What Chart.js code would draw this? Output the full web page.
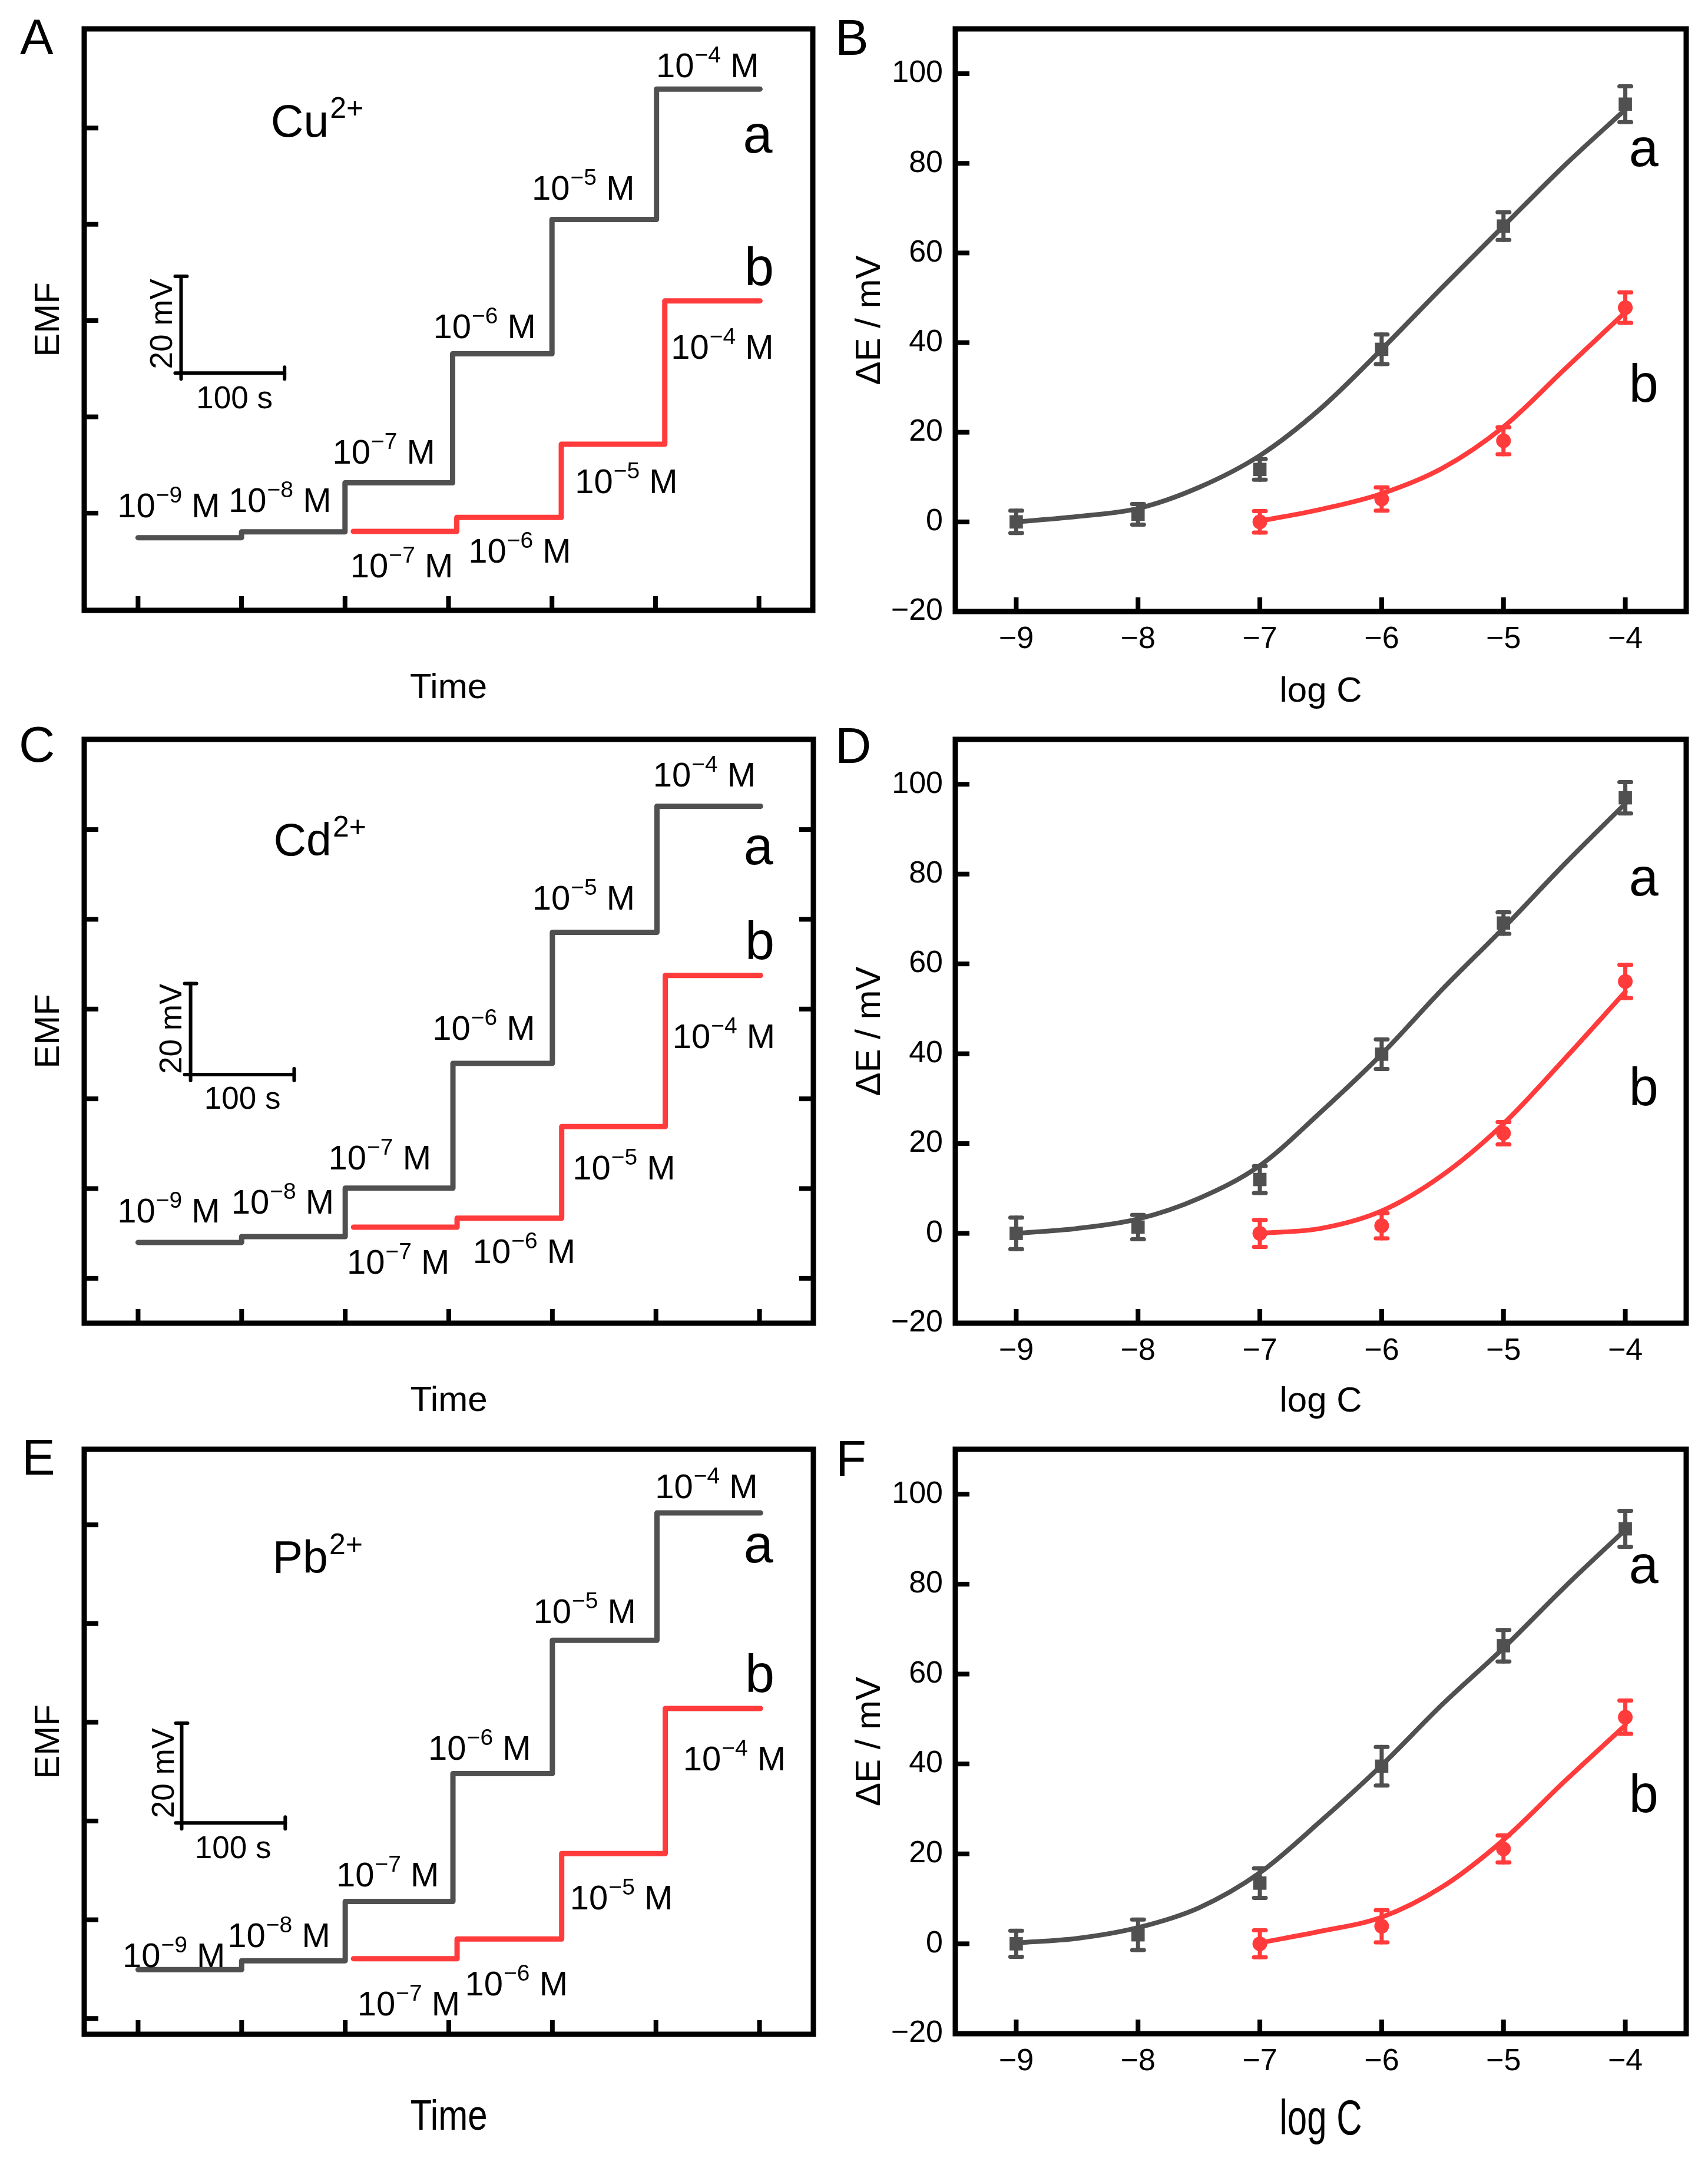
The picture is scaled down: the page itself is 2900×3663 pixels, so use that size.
<!DOCTYPE html>
<html><head><meta charset="utf-8">
<script src="https://cdn.jsdelivr.net/npm/chart.js@4.4.1/dist/chart.umd.min.js"></script>
<style>
html,body{margin:0;padding:0;background:#fff;overflow:hidden;}
#wrap{position:relative;width:2900px;height:3663px;overflow:hidden;background:#fff;}
#wrap canvas{position:absolute;}
</style></head><body><div id="wrap"></div>
<script>
// ================= DATA =================
// Left panels (A, C, E): potential-time step traces
const stepTimesA = [0, 100, 200, 304, 400, 501, 601];   // s, trace a step times (+ end)
const stepTimesB = [208, 308, 409, 509, 601];            // s, trace b step times (+ end)
const emfCu_a = [-5.1, -3.9, 6.3, 33.1, 61.0, 88.1, 88.1];
const emfCu_b = [-3.8, -0.9, 14.3, 44.1, 44.1];
const emfCd_a = [8.0, 9.3, 20.1, 47.9, 77.1, 105.2, 105.2];
const emfCd_b = [11.4, 13.4, 33.8, 67.5, 67.5];
const emfPb_a = [9.9, 11.7, 23.7, 49.6, 76.6, 102.4, 102.4];
const emfPb_b = [12.1, 16.1, 33.4, 62.8, 62.8];
const concExp_a = [-9, -8, -7, -6, -5, -4];
const concExp_b = [-7, -6, -5, -4];
const timeTicks = [0, 100, 200, 300, 400, 500, 600];
const emfTicksA = [0, 20, 40, 60, 80];
const emfTicksC = [0, 20, 40, 60, 80, 100];
const emfTicksE = [0, 20, 40, 60, 80, 100];

// Right panels (B, D, F): calibration curves
const logC_a = [-9, -8, -7, -6, -5, -4];
const logC_b = [-7, -6, -5, -4];
const dECu_a = [0, 1.7, 11.7, 38.5, 66.0, 93.2];
const errCu_a = [2.5, 2.3, 2.3, 3.3, 3.1, 4.0];
const dECu_b = [0, 5.1, 18.1, 47.8];
const errCu_b = [2.4, 2.6, 3.0, 3.4];
const dECd_a = [0, 1.4, 12.0, 39.9, 69.1, 97.0];
const errCd_a = [3.5, 2.7, 3.0, 3.3, 2.4, 3.5];
const dECd_b = [0, 1.7, 22.3, 56.1];
const errCd_b = [3.0, 2.8, 2.5, 3.7];
const dEPb_a = [0, 2.0, 13.5, 39.5, 66.3, 92.3];
const errPb_a = [2.9, 3.4, 3.3, 4.3, 3.5, 4.0];
const dEPb_b = [0, 3.9, 21.1, 50.4];
const errPb_b = [3.0, 3.6, 3.0, 3.7];
// fitted curves
const fitX_a = [-9, -8.5, -8, -7.5, -7, -6.5, -6, -5.5, -5, -4.5, -4];
const fitX_b = [-7, -6.5, -6, -5.5, -5, -4.5, -4];
const fitCu_a = [0, 1.2, 3.0, 7.7, 14.8, 25.3, 38.5, 52.4, 66.0, 79.5, 92.0];
const fitCu_b = [0.2, 2.8, 6.3, 12.0, 21.2, 34.0, 46.8];
const fitCd_a = [0, 1.1, 3.2, 7.8, 15.1, 27.0, 39.9, 54.4, 68.0, 82.2, 95.7];
const fitCd_b = [0, 1.1, 5.0, 13.0, 24.4, 38.8, 53.8];
const fitPb_a = [0.2, 1.2, 3.6, 8.0, 15.8, 27.3, 39.7, 53.3, 65.8, 79.3, 92.1];
const fitPb_b = [0.2, 2.8, 5.9, 12.7, 23.1, 36.1, 48.6];
const logCTicks = [-9, -8, -7, -6, -5, -4];
const dETicks = [-20, 0, 20, 40, 60, 80, 100];

// ================= ANNOTATION PLACEMENT (data coords) =================
const annA = { ion:['Cu','2+',128.3,78.2], a:[584.5,74.9], b:[586,47.4],
  concA:[[-17.2,-0.9],[90.3,0.3],[190.7,10.3],[288,36.4],[383.4,65.1],[503.5,90.6]],
  concB:[[208,-13.4],[322,-10.3],[425,4.2],[517.8,32.0]],
  bar:{t0:41.6,t1:141.6,v0:29.1,v1:49.2,s:[56.3,21.8],mv:[33,39.3]} };
const annC = { ion:['Cd','2+',130.8,94.3], a:[584.7,92.3], b:[586,71.1],
  concA:[[-17.2,12.4],[92.8,14.4],[186.6,24.2],[287,53.1],[383.4,82.2],[500,109.6]],
  concB:[[204.4,1.0],[326,3.4],[422.4,22.0],[518.8,51.3]],
  bar:{t0:50.7,t1:150.7,v0:45.4,v1:65.7,s:[63.9,37.8],mv:[42,55.6]} };
const annE = { ion:['Pb','2+',129.8,90.2], a:[584.7,92.4], b:[586,66.1],
  concA:[[-12.2,10.4],[89.2,14.5],[194.2,26.8],[283,52.4],[384.4,80.1],[502,105.4]],
  concB:[[214.5,0.6],[318.5,4.7],[419.9,22.1],[529,50.3]],
  bar:{t0:42.1,t1:142.1,v0:39.6,v1:59.8,s:[54.8,32.5],mv:[34.5,49.7]} };

// ================= STYLE =================
const FF = '"Liberation Sans", Arial, Helvetica, sans-serif';
const GRAY = '#505050', RED = '#ff3b3b';
const wrap = document.getElementById('wrap');

function line(c, x1, y1, x2, y2) { c.beginPath(); c.moveTo(x1, y1); c.lineTo(x2, y2); c.stroke(); }
function fmtTick(v) { return v < 0 ? '\u2212' + Math.abs(v) : String(v); }

function layoutFor(p) {
  const ct = p.frame.T - 150, ch = p.frame.B - p.frame.T + 400;
  const half = 36;
  const yW = p.frame.L - (p.yTitleX - half);
  const xH = p.xStretch ? 200 : (p.xTitleY + half - p.frame.B);
  return { ct, ch, yW, xH,
    padding: { left: p.yTitleX - half - p.cl, top: 150, right: p.cl + p.cw - p.frame.R, bottom: ct + ch - p.frame.B - xH } };
}

function drawConc(c, x, y, exp) {
  c.font = '58px ' + FF; c.fillText('10', x, y); let w = c.measureText('10').width + 1;
  const s = '\u2212' + Math.abs(exp);
  c.font = '39px ' + FF; c.fillText(s, x + w, y - 25); w += c.measureText(s).width;
  c.font = '58px ' + FF; c.fillText(' M', x + w, y);
}

function makeDecor(spec, L) {
  return {
    id: 'decor' + spec.letter,
    beforeDatasetsDraw(chart) {
      const c = chart.ctx, ys = chart.scales.y;
      chart.data.datasets.forEach((ds, i) => {
        if (!ds.errorBars) return;
        const meta = chart.getDatasetMeta(i);
        c.save(); c.strokeStyle = ds.pointBackgroundColor; c.lineWidth = 7; c.lineCap = 'round';
        meta.data.forEach((pt, j) => {
          const v = ds.data[j].y, e = ds.errorBars[j];
          const y1 = ys.getPixelForValue(v + e), y2 = ys.getPixelForValue(v - e);
          line(c, pt.x, y1, pt.x, y2);
          line(c, pt.x - 10, y1, pt.x + 10, y1);
          line(c, pt.x - 10, y2, pt.x + 10, y2);
        });
        c.restore();
      });
    },
    afterDraw(chart) {
      const c = chart.ctx, a = chart.chartArea, xs = chart.scales.x, ys = chart.scales.y;
      const X = v => xs.getPixelForValue(v), Y = v => ys.getPixelForValue(v);
      c.save();
      c.strokeStyle = '#000'; c.fillStyle = '#000';
      c.lineWidth = 9; c.lineJoin = 'miter';
      c.strokeRect(a.left, a.top, a.right - a.left, a.bottom - a.top);
      c.lineWidth = 8; c.lineCap = 'butt';
      spec.xTicks.forEach(v => line(c, X(v), a.bottom, X(v), a.bottom - 24));
      spec.yTicks.forEach(v => {
        line(c, a.left, Y(v), a.left + 24, Y(v));
        if (spec.rightTicks) line(c, a.right, Y(v), a.right - 24, Y(v));
      });
      c.textAlign = 'left'; c.textBaseline = 'alphabetic';
      // panel letter
      c.font = '85px ' + FF;
      c.fillText(spec.letter, spec.letterX - spec.cl, spec.letterY - L.ct);
      // stretched x title
      if (spec.xStretch) {
        c.save();
        c.translate((a.left + a.right) / 2, spec.xTitleY - L.ct);
        c.scale(1, spec.xStretch);
        c.font = '60px ' + FF; c.textAlign = 'center';
        c.fillText(spec.xTitle, 0, 0.716 * 60 / 2);
        c.restore();
      }
      // a / b labels
      c.font = '90px ' + FF;
      c.fillText('a', X(spec.labA[0]), Y(spec.labA[1]));
      c.fillText('b', X(spec.labB[0]), Y(spec.labB[1]));
      const ann = spec.ann;
      if (ann) {
        // ion
        c.font = '77px ' + FF;
        const ix = X(ann.ion[2]), iy = Y(ann.ion[3]);
        c.fillText(ann.ion[0], ix, iy);
        const iw = c.measureText(ann.ion[0]).width + 2;
        c.font = '50px ' + FF; c.fillText(ann.ion[1], ix + iw, iy - 32);
        // concentration labels
        ann.concA.forEach((p, i) => drawConc(c, X(p[0]) - 5, Y(p[1]), concExp_a[i]));
        ann.concB.forEach((p, i) => drawConc(c, X(p[0]) - 5, Y(p[1]), concExp_b[i]));
        // scale bar
        const b = ann.bar;
        const x0 = X(b.t0), x1 = X(b.t1), y0 = Y(b.v0), y1 = Y(b.v1);
        c.lineWidth = 6; c.lineCap = 'round';
        line(c, x0, y0, x0, y1); line(c, x0, y0, x1, y0);
        line(c, x0 - 10, y1, x0 + 10, y1); line(c, x0 - 10, y0, x0, y0);
        line(c, x0, y0, x0, y0 + 10); line(c, x1, y0 - 10, x1, y0 + 10);
        c.font = '53px ' + FF;
        c.fillText('100 s', X(b.s[0]), Y(b.s[1]));
        c.save(); c.translate(X(b.mv[0]), Y(b.mv[1])); c.rotate(-Math.PI / 2);
        c.textAlign = 'center'; c.fillText('20 mV', 0, 0); c.restore();
      }
      c.restore();
    }
  };
}

function build(spec, datasets) {
  const L = layoutFor(spec);
  const cv = document.createElement('canvas');
  cv.width = spec.cw; cv.height = L.ch;
  cv.style.left = spec.cl + 'px'; cv.style.top = L.ct + 'px';
  cv.style.width = spec.cw + 'px'; cv.style.height = L.ch + 'px';
  wrap.appendChild(cv);
  const tickFont = { size: 52, family: FF };
  const titleFont = { size: 60, family: FF };
  new Chart(cv.getContext('2d'), {
    type: 'line',
    data: { datasets },
    options: {
      responsive: false, animation: false, devicePixelRatio: 1,
      layout: { padding: L.padding },
      plugins: { legend: { display: false }, tooltip: { enabled: false } },
      scales: {
        x: {
          type: 'linear', min: spec.xMin, max: spec.xMax,
          afterBuildTicks: s => { s.ticks = spec.xTicks.map(v => ({ value: v })); },
          afterFit: s => { s.height = L.xH; },
          grid: { display: false, drawTicks: false }, border: { display: false },
          ticks: { display: spec.showLabels, padding: 16, font: tickFont, color: '#000', callback: fmtTick, maxRotation: 0, autoSkip: false },
          title: { display: !spec.xStretch, text: spec.xTitle, font: titleFont, color: '#000', padding: 0 }
        },
        y: {
          type: 'linear', min: spec.yMin, max: spec.yMax,
          afterBuildTicks: s => { s.ticks = spec.yTicks.map(v => ({ value: v })); },
          afterFit: s => { s.width = L.yW; },
          grid: { display: false, drawTicks: false }, border: { display: false },
          ticks: { display: spec.showLabels, padding: 21, font: tickFont, color: '#000', callback: fmtTick, autoSkip: false },
          title: { display: true, text: spec.yTitle, font: titleFont, color: '#000', padding: 0 }
        }
      }
    },
    plugins: [makeDecor(spec, L)]
  });
}

function xy(xsArr, ysArr) { return xsArr.map((x, i) => ({ x, y: ysArr[i] })); }

function stepSets(va, vb) {
  return [
    { data: xy(stepTimesA, va), stepped: 'before', borderColor: GRAY, borderWidth: 9, pointRadius: 0, fill: false, borderCapStyle: 'round', borderJoinStyle: 'round' },
    { data: xy(stepTimesB, vb), stepped: 'before', borderColor: RED, borderWidth: 9, pointRadius: 0, fill: false, borderCapStyle: 'round', borderJoinStyle: 'round' }
  ];
}
function calSets(da, ea, db, eb, fa, fb) {
  return [
    { data: xy(logC_a, da), errorBars: ea, showLine: false, pointStyle: 'rect', pointRadius: 16, pointBackgroundColor: GRAY, pointBorderWidth: 0, borderColor: GRAY },
    { data: xy(logC_b, db), errorBars: eb, showLine: false, pointStyle: 'circle', pointRadius: 12.5, pointBackgroundColor: RED, pointBorderWidth: 0, borderColor: RED },
    { data: xy(fitX_a, fa), borderColor: GRAY, borderWidth: 8, pointRadius: 0, cubicInterpolationMode: 'monotone', fill: false, borderCapStyle: 'round' },
    { data: xy(fitX_b, fb), borderColor: RED, borderWidth: 8, pointRadius: 0, cubicInterpolationMode: 'monotone', fill: false, borderCapStyle: 'round' }
  ];
}

const leftBase = { cl: 0, cw: 1460, xMin: -52, xMax: 652, xTicks: timeTicks, showLabels: false, xTitle: 'Time', yTitle: 'EMF', yTitleX: 83.5, labA: null, labB: null };
const rightBase = { cl: 1400, cw: 1500, xMin: -9.5, xMax: -3.5, yMin: -20, yMax: 110, xTicks: logCTicks, yTicks: dETicks, showLabels: true, xTitle: 'log C', yTitle: '\u0394E / mV', yTitleX: 1477.5, rightTicks: false, ann: null };

build(Object.assign({}, leftBase, { letter: 'A', letterX: 34, letterY: 92, frame: { L: 143, T: 49, R: 1380, B: 1036 }, yMin: -20.2, yMax: 100.6, yTicks: emfTicksA, rightTicks: false, xTitleY: 1168, xStretch: 0, ann: annA, labA: annA.a, labB: annA.b }), stepSets(emfCu_a, emfCu_b));
build(Object.assign({}, rightBase, { letter: 'B', letterX: 1418, letterY: 93, frame: { L: 1622, T: 49, R: 2863, B: 1038 }, xTitleY: 1174, xStretch: 0, labA: [-3.97, 79.4], labB: [-3.97, 26.8] }), calSets(dECu_a, errCu_a, dECu_b, errCu_b, fitCu_a, fitCu_b));
build(Object.assign({}, leftBase, { letter: 'C', letterX: 32, letterY: 1293, frame: { L: 143, T: 1255, R: 1381, B: 2246 }, yMin: -10, yMax: 120.1, yTicks: emfTicksC, rightTicks: true, xTitleY: 2378, xStretch: 0, ann: annC, labA: annC.a, labB: annC.b }), stepSets(emfCd_a, emfCd_b));
build(Object.assign({}, rightBase, { letter: 'D', letterX: 1418, letterY: 1295, frame: { L: 1622, T: 1255, R: 2863, B: 2246 }, xTitleY: 2379, xStretch: 0, labA: [-3.97, 75.2], labB: [-3.97, 28.5] }), calSets(dECd_a, errCd_a, dECd_b, errCd_b, fitCd_a, fitCd_b));
build(Object.assign({}, leftBase, { letter: 'E', letterX: 37, letterY: 2503, frame: { L: 143, T: 2460, R: 1381, B: 3453 }, yMin: -3.2, yMax: 115.3, yTicks: emfTicksE, rightTicks: false, xTitleY: 3589, xStretch: 1.2, ann: annE, labA: annE.a, labB: annE.b }), stepSets(emfPb_a, emfPb_b));
build(Object.assign({}, rightBase, { letter: 'F', letterX: 1419, letterY: 2505, frame: { L: 1622, T: 2460, R: 2863, B: 3452 }, xTitleY: 3593, xStretch: 1.4, labA: [-3.97, 80.3], labB: [-3.97, 29.3] }), calSets(dEPb_a, errPb_a, dEPb_b, errPb_b, fitPb_a, fitPb_b));
</script>
</body></html>
